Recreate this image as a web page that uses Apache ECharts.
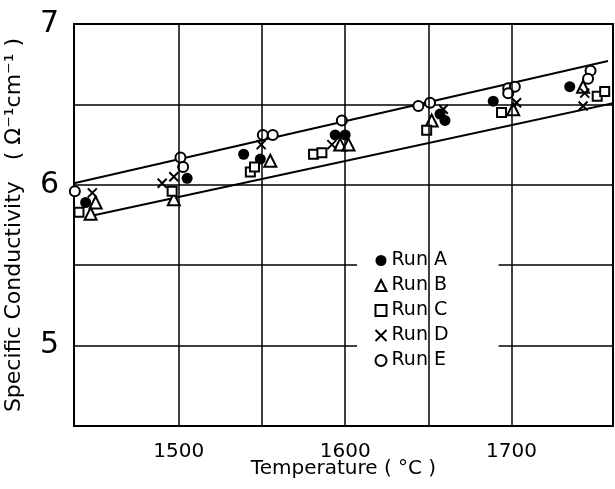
<!DOCTYPE html>
<html>
<head>
<meta charset="utf-8">
<script src="https://cdn.jsdelivr.net/npm/echarts@6/dist/echarts.min.js"></script>
<style>html,body{margin:0;padding:0;background:#fff}#c{width:615px;height:489px}</style>
</head>
<body>
<div id="c"></div>
<script>
// Data (Temperature °C, Specific conductivity Ω⁻¹cm⁻¹)
const runA = [[1444,5.89],[1505,6.04],[1539,6.19],[1549,6.16],[1594,6.31],[1600,6.31],[1657,6.44],[1660,6.40],[1689,6.52],[1735,6.61]];
const runB = [[1450,5.89],[1447,5.82],[1497,5.91],[1555,6.15],[1597,6.25],[1602,6.25],[1652,6.40],[1701,6.47],[1743,6.61]];
const runC = [[1440,5.83],[1496,5.96],[1543,6.08],[1545.5,6.11],[1581,6.19],[1586,6.20],[1649,6.34],[1694,6.45],[1751.5,6.55],[1756,6.58]];
const runD = [[1448,5.95],[1490,6.01],[1497,6.05],[1549.5,6.25],[1592,6.25],[1659,6.47],[1703,6.51],[1744,6.57],[1743,6.49]];
const runE = [[1437.5,5.96],[1501,6.17],[1502.6,6.11],[1550.5,6.31],[1556.5,6.31],[1598,6.40],[1644,6.49],[1651,6.51],[1698,6.60],[1702,6.61],[1698,6.57],[1747.5,6.71],[1746,6.66]];
const upperBand = [[1437,6.01],[1758,6.77]];
const lowerBand = [[1449,5.81],[1762,6.51]];
const xTickLabels = [1500,1600,1700];
const xGridValues = [1500,1550,1600,1650,1700];
const seriesNames = ['Run A','Run B','Run C','Run D','Run E'];

const FONT = 'DejaVu Sans';
const crossPath = 'path://M0,0L10,10M10,0L0,10';
const chart = echarts.init(document.getElementById('c'), null, {renderer:'canvas'});

function scatter(name, data, symbol, size, filled) {
  return {
    name, type:'scatter', data, symbol, symbolSize:size,
    itemStyle: filled ? {color:'#000', opacity:1} : {color:'#fff', borderColor:'#000', borderWidth:2, opacity:1},
    z:3
  };
}

chart.setOption({
  animation:false,
  backgroundColor:'#fff',
  grid:{left:74,right:2,top:24,bottom:63,show:true,borderColor:'#000',borderWidth:2,backgroundColor:'transparent',
        containLabel:false, outerBoundsMode:'none'},
  xAxis:{
    type:'value', min:1437, max:1761,
    axisLine:{show:false}, axisTick:{show:false}, splitLine:{show:false},
    axisLabel:{customValues:xTickLabels, color:'#000', fontSize:20, fontFamily:FONT, margin:16,
      formatter:v => String(v)},
    name:'Temperature ( °C )', nameLocation:'middle', nameGap:33, nameMoveOverlap:false,
    nameTextStyle:{color:'#000', fontSize:20, fontFamily:FONT}
  },
  yAxis:{
    type:'value', min:4.5, max:7, interval:0.5,
    axisLine:{show:false}, axisTick:{show:false},
    splitLine:{show:true, lineStyle:{color:'#000', width:1.5}},
    axisLabel:{color:'#000', fontSize:30, fontFamily:FONT, margin:15,
      formatter:v => (Math.abs(v - Math.round(v)) < 1e-6 ? String(Math.round(v)) : '')},
    name:'Specific Conductivity   ( Ω⁻¹cm⁻¹ )', nameLocation:'middle', nameGap:49, nameRotate:90,
    nameTextStyle:{color:'#000', fontSize:22, fontFamily:FONT}
  },
  legend:{
    data:seriesNames.map(n => ({name:n, itemStyle:{opacity:1}})), orient:'vertical', left:357, top:225,
    padding:[26,50,26,16], itemGap:6, itemWidth:11, itemHeight:11,
    backgroundColor:'#fff',
    textStyle:{color:'#000', fontSize:19, fontFamily:FONT}
  },
  series:[
    {type:'line', data:upperBand, symbol:'none', lineStyle:{color:'#000',width:2}, silent:true, z:2,
     markLine:{silent:true, symbol:'none', label:{show:false}, lineStyle:{color:'#000',width:1.5,type:'solid'},
       data:xGridValues.map(v => ({xAxis:v}))}},
    {type:'line', data:lowerBand, symbol:'none', lineStyle:{color:'#000',width:2}, silent:true, z:2},
    scatter('Run A', runA, 'circle', 11, true),
    scatter('Run B', runB, 'triangle', 12, false),
    scatter('Run C', runC, 'rect', 9, false),
    {name:'Run D', type:'scatter', data:runD, symbol:crossPath, symbolSize:9,
     itemStyle:{color:'none', borderColor:'#000', borderWidth:2, opacity:1}, z:3},
    scatter('Run E', runE, 'circle', 10, false)
  ]
});
</script>
</body>
</html>
